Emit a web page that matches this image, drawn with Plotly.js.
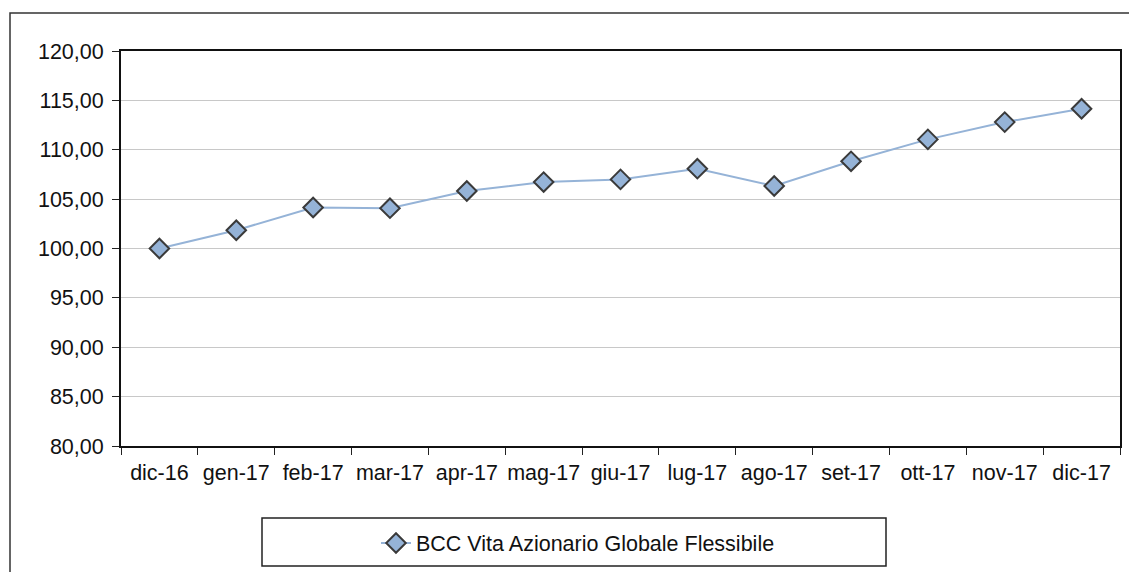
<!DOCTYPE html>
<html>
<head>
<meta charset="utf-8">
<script src="https://cdn.plot.ly/plotly-3.0.1.min.js"></script>
<style>
html,body{margin:0;padding:0;background:#fff;}
#chart{width:1129px;height:572px;}
</style>
</head>
<body>
<div id="chart"></div>
<script>
const categories = ["dic-16","gen-17","feb-17","mar-17","apr-17","mag-17","giu-17","lug-17","ago-17","set-17","ott-17","nov-17","dic-17"];
const values = [100.00,101.85,104.15,104.08,105.82,106.73,107.00,108.08,106.33,108.83,111.05,112.80,114.15];
const seriesName = "BCC Vita Azionario Globale Flessibile";
const yTickVals = [80,85,90,95,100,105,110,115,120];
const yTickText = ["80,00","85,00","90,00","95,00","100,00","105,00","110,00","115,00","120,00"];

const W = 1129, H = 572;
const m = {l:121, r:9, t:51, b:126};
const pw = W - m.l - m.r, ph = H - m.t - m.b;
const px = v => (v - m.l) / pw;
const py = v => (H - m.b - v) / ph;

const trace = {
  x: categories,
  y: values,
  type: 'scatter',
  mode: 'lines+markers',
  name: seriesName,
  line: {color:'#95b3d7', width:2},
  marker: {symbol:'diamond', size:15, color:'#95b3d7', line:{color:'#3a3a3a', width:2}}
};

const layout = {
  width: W, height: H,
  margin: m,
  paper_bgcolor:'#fff', plot_bgcolor:'#fff',
  font: {family:'Liberation Sans, Arial, sans-serif', size:21.5, color:'#111'},
  xaxis: {
    type:'category',
    tickson:'boundaries',
    tickangle:0,
    ticks:'outside', ticklen:7, tickcolor:'#222', tickwidth:1,
    ticklabelstandoff:6,
    showgrid:false,
    showline:true, linecolor:'#111', linewidth:2, mirror:true,
    tickfont:{size:21.5},
    range:[-0.5, 12.5]
  },
  yaxis: {
    range:[80,120],
    tickvals: yTickVals, ticktext: yTickText,
    ticks:'outside', ticklen:7, tickcolor:'#222', tickwidth:1,
    ticklabelstandoff:4,
    showgrid:true, gridcolor:'#c8c8c8', gridwidth:1,
    showline:true, linecolor:'#111', linewidth:2, mirror:true,
    zeroline:false,
    tickfont:{size:21.5}
  },
  showlegend:true,
  legend: {
    x: px(376), y: py(543), xanchor:'left', yanchor:'middle',
    bgcolor:'rgba(0,0,0,0)', borderwidth:0,
    font:{size:21.5, color:'#111'}
  },
  shapes: [
    {type:'rect', xref:'paper', yref:'paper', x0:px(10), x1:px(1140), y0:py(13), y1:py(590),
     line:{color:'#333', width:1.5}, fillcolor:'rgba(0,0,0,0)', layer:'below'},
    {type:'rect', xref:'paper', yref:'paper', x0:px(262), x1:px(886), y0:py(518), y1:py(566),
     line:{color:'#222', width:1.5}, fillcolor:'rgba(0,0,0,0)'}
  ]
};

Plotly.newPlot('chart', [trace], layout, {displayModeBar:false, staticPlot:true});
</script>
</body>
</html>
